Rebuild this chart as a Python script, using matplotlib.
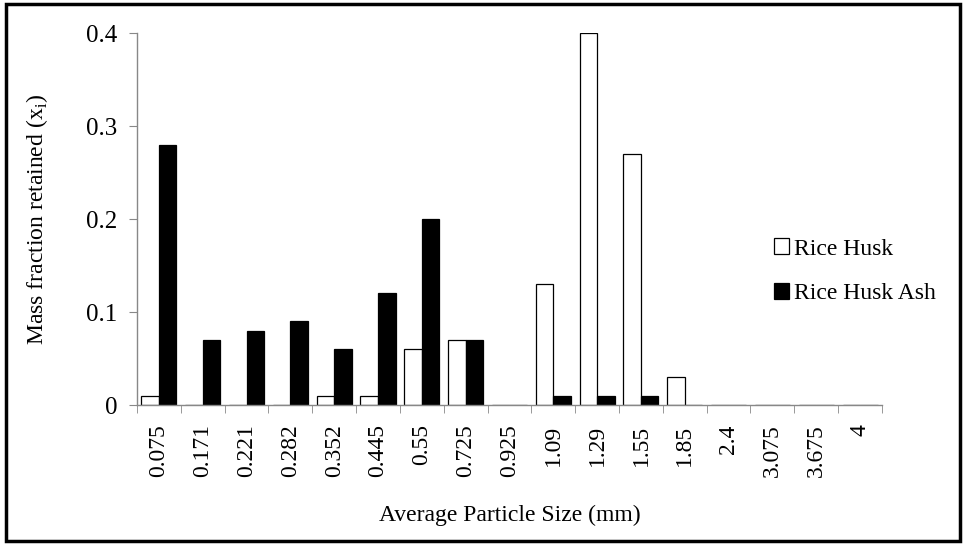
import numpy as np
import matplotlib
matplotlib.use('Agg')
import matplotlib.pyplot as plt
from matplotlib.patches import Rectangle

plt.rcParams['font.family'] = ['Liberation Serif', 'DejaVu Serif']

sizes = ['0.075', '0.171', '0.221', '0.282', '0.352', '0.445', '0.55', '0.725',
         '0.925', '1.09', '1.29', '1.55', '1.85', '2.4', '3.075', '3.675', '4']
riceHusk = [0.01, 0, 0, 0, 0.01, 0.01, 0.06, 0.07, 0, 0.13, 0.40, 0.27, 0.03, 0, 0, 0, 0]
riceHuskAsh = [0.28, 0.07, 0.08, 0.09, 0.06, 0.12, 0.20, 0.07, 0, 0.01, 0.01, 0.01, 0, 0, 0, 0, 0]

fig = plt.figure(figsize=(9.66, 5.44), dpi=100)
ax = fig.add_axes([0.1418, 0.2555, 0.7712, 0.6838])

x = np.arange(len(sizes))
w = 0.4
ax.bar(x - w / 2, riceHusk, w, color='white', edgecolor='black', linewidth=0.9, label='Rice Husk')
ax.bar(x + w / 2, riceHuskAsh, w, color='black', edgecolor='black', linewidth=0.9, label='Rice Husk Ash')

ax.set_xlim(-0.5, len(sizes) - 0.5)
ax.set_ylim(0, 0.4)
ax.set_yticks([0, 0.1, 0.2, 0.3, 0.4])
ax.set_yticklabels(['0', '0.1', '0.2', '0.3', '0.4'], fontsize=18)

# category labels in the middle, tick marks on the boundaries
ax.set_xticks(x)
ax.set_xticklabels(sizes, rotation=90, fontsize=17)
ax.tick_params(axis='x', length=0, pad=14)
ax.set_xticks(np.arange(-0.5, len(sizes)), minor=True)
ax.tick_params(axis='x', which='minor', length=6, color='#888888')
ax.tick_params(axis='y', length=6, color='#888888', pad=8)

for s in ['top', 'right']:
    ax.spines[s].set_visible(False)
for s in ['left', 'bottom']:
    ax.spines[s].set_color('#888888')
    ax.spines[s].set_linewidth(1)

ax.set_ylabel('Mass fraction retained (x$_\\mathregular{i}$)', fontsize=17, labelpad=26)
ax.set_xlabel('Average Particle Size (mm)', fontsize=17, labelpad=20)

ax.legend(loc='upper left', bbox_to_anchor=(0.826, 0.505), frameon=False, fontsize=17,
          handlelength=0.65, handleheight=0.65, handletextpad=0.2, labelspacing=1.0)

# outer frame
fig.patches.append(Rectangle((0.006, 0.006), 0.988, 0.986, transform=fig.transFigure,
                             fill=False, edgecolor='black', linewidth=2.5))

fig.savefig('out.png', dpi=100)
